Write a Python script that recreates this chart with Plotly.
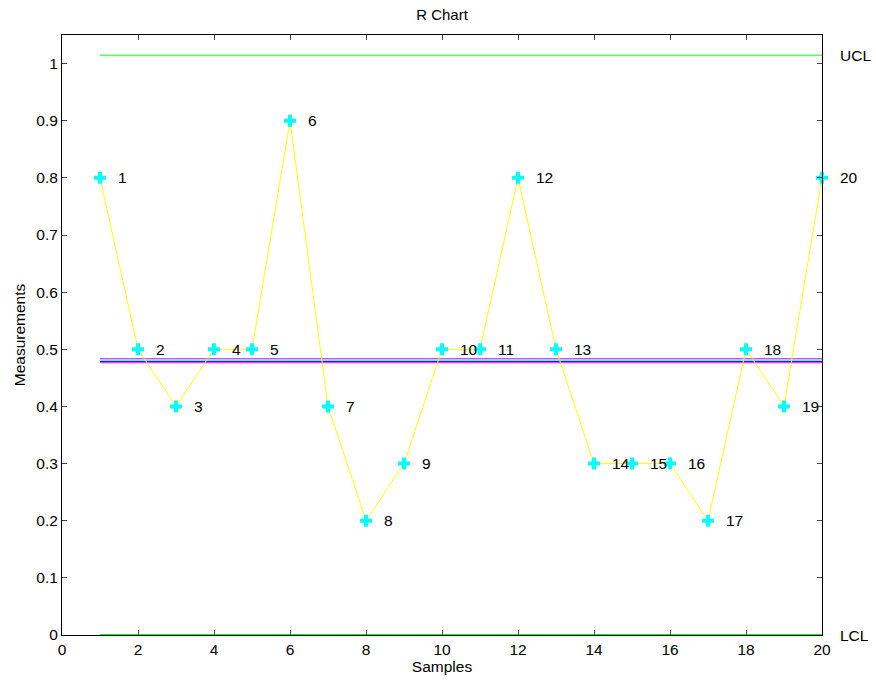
import plotly.graph_objects as go

samples = list(range(1, 21))
ranges = [0.8, 0.5, 0.4, 0.5, 0.5, 0.9, 0.4, 0.2, 0.3, 0.5,
          0.5, 0.8, 0.5, 0.3, 0.3, 0.3, 0.2, 0.5, 0.4, 0.8]
ucl = 1.0147
lcl = 0.0
center = 0.48
x_ticks = list(range(0, 21, 2))
y_ticks = [round(i * 0.1, 1) for i in range(11)]
y_tick_text = ["0"] + [f"{v:g}" for v in y_ticks[1:-1]] + ["1"]
x_range = [0, 20]

font = "Liberation Sans, Arial, Helvetica, sans-serif"
fig = go.Figure()

x_line = [samples[0], samples[-1]]
fig.add_trace(go.Scatter(x=x_line, y=[ucl, ucl], mode="lines",
                         line=dict(color="#00ff00", width=1), hoverinfo="skip"))
fig.add_trace(go.Scatter(x=x_line, y=[lcl, lcl], mode="lines",
                         line=dict(color="#00ff00", width=2), hoverinfo="skip", cliponaxis=False))
for off, col in [(0.0035, "#ff00ff"), (0.0012, "#00ffff"), (-0.0012, "#0000ff"), (-0.0035, "#ff00ff")]:
    fig.add_trace(go.Scatter(x=x_line, y=[center + off] * 2, mode="lines",
                             line=dict(color=col, width=1), hoverinfo="skip"))

fig.add_trace(go.Scatter(x=samples, y=ranges, mode="lines",
                         line=dict(color="#ffff00", width=1)))
fig.add_trace(go.Scatter(x=samples, y=ranges, mode="markers", cliponaxis=False,
                         marker=dict(symbol="cross", size=10, color="#00ffff",
                                     line=dict(width=0))))


def xp(v):
    return (v - x_range[0]) / (x_range[1] - x_range[0])


lab_font = dict(size=15.5, color="black", family=font)
annotations = []
for s, r in zip(samples, ranges):
    annotations.append(dict(x=xp(s + 0.5), xref="paper", y=r, yref="y", text=str(s),
                            showarrow=False, xanchor="left", yanchor="middle",
                            xshift=-3, font=lab_font))
annotations.append(dict(x=xp(20.5), xref="paper", y=ucl, yref="y", text="UCL",
                        showarrow=False, xanchor="left", yanchor="middle", xshift=-3,
                        font=lab_font))
annotations.append(dict(x=xp(20.5), xref="paper", y=lcl, yref="y", text="LCL",
                        showarrow=False, xanchor="left", yanchor="middle", xshift=-3,
                        font=lab_font))

fig.update_layout(
    width=876, height=681,
    margin=dict(l=62, r=54, t=35, b=46, autoexpand=False),
    paper_bgcolor="white", plot_bgcolor="white",
    showlegend=False,
    font=dict(family=font, size=15, color="black"),
    title=dict(text="R Chart", x=0.5, xref="paper", xanchor="center",
               y=1, yref="container", yanchor="top", pad=dict(t=9),
               font=dict(size=15, family=font)),
    annotations=annotations,
    xaxis=dict(range=x_range, tickvals=x_ticks, ticks="inside", ticklen=5,
               tickcolor="#444", showgrid=False, zeroline=False, showline=True,
               linecolor="black", linewidth=1, mirror="ticks", automargin=False,
               title=dict(text="Samples", standoff=0, font=dict(size=15.5)),
               tickfont=dict(size=15.5)),
    yaxis=dict(range=[0, 1.05], tickvals=y_ticks, ticktext=y_tick_text,
               ticks="inside", ticklen=5, tickcolor="#444", showgrid=False,
               zeroline=False, showline=True, linecolor="black", linewidth=1,
               mirror="ticks", automargin=False,
               title=dict(text="Measurements", standoff=6, font=dict(size=15.5)),
               tickfont=dict(size=15.5)),
)

fig.write_html("out.html", config={"displayModeBar": False},
               post_script="document.body.style.margin='0';document.body.style.overflow='hidden';")
